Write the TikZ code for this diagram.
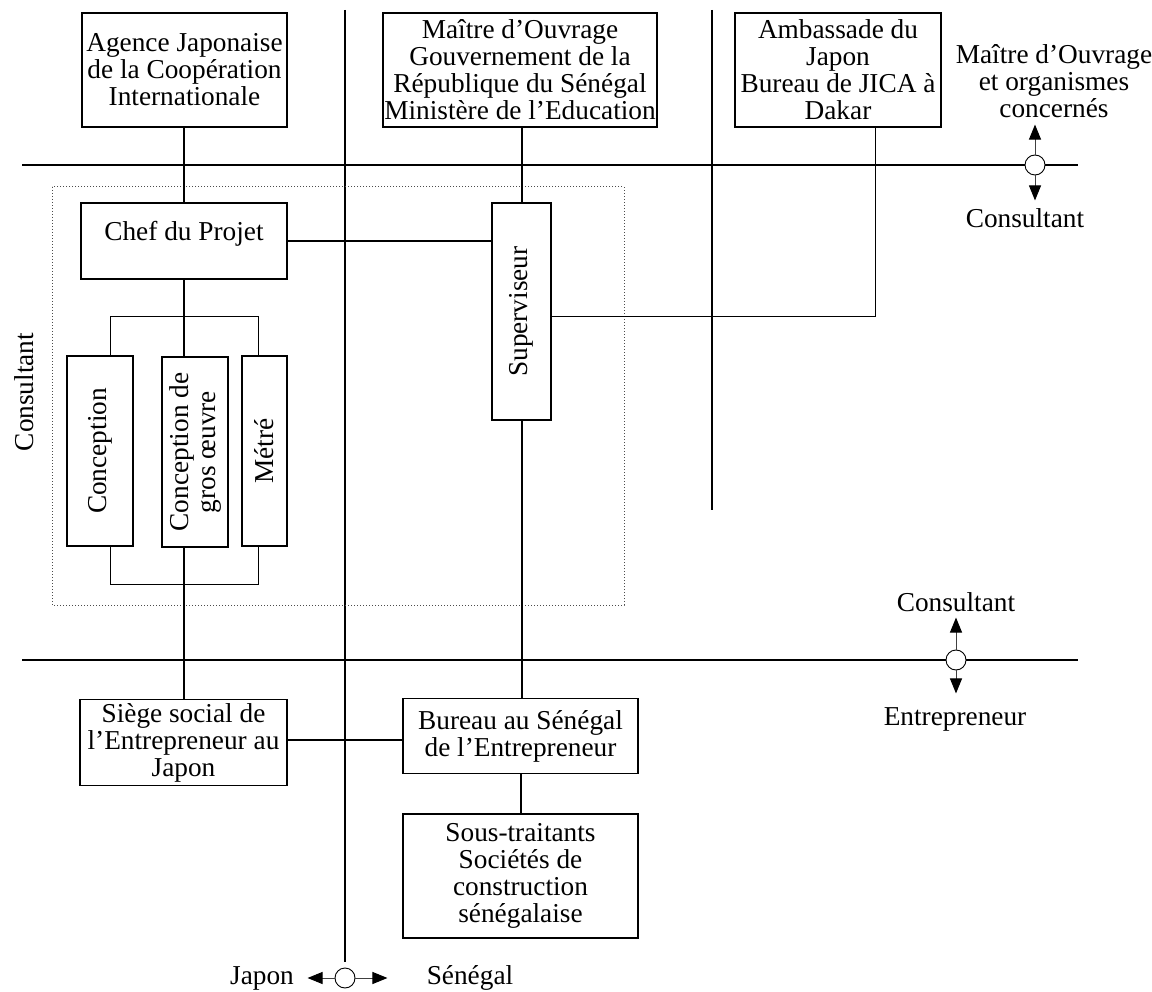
\documentclass[tikz,border=0pt]{standalone}
\usepackage{fontspec}
\setmainfont{Liberation Serif}
\usetikzlibrary{arrows.meta}
\begin{document}
\begin{tikzpicture}[x=1pt,y=-1pt,
  box/.style={draw,line width=1.3pt,inner sep=0pt,align=center,font=\fontsize{27.3}{27}\selectfont},
  lbl/.style={align=center,inner sep=0pt,font=\fontsize{27.3}{27}\selectfont},
  mainln/.style={line width=2.6pt},
  conn/.style={line width=2pt},
  thinln/.style={line width=1pt},
  hub/.style={circle,draw,fill=white,line width=0.9pt,minimum size=20pt,inner sep=0pt},
  arr/.style={line width=1pt,black!75,-{Triangle[length=15pt,width=12pt,color=black]}},
]
\useasboundingbox (0,0) rectangle (1152,992);

% main separation lines
\coordinate (h1a) at (22,165);  \coordinate (h1b) at (1078,165);
\coordinate (h2a) at (22,660);  \coordinate (h2b) at (1078,660);
\coordinate (v1a) at (345,10);  \coordinate (v1b) at (345,962);
\coordinate (v2a) at (712,10);  \coordinate (v2b) at (712,510);
\draw[mainln] (h1a) -- (h1b);
\draw[mainln] (h2a) -- (h2b);
\draw[conn] (v1a) -- (v1b);
\draw[conn] (v2a) -- (v2b);

% consultant team frame
\draw[dotted,line width=1pt,black!70] (52,187) rectangle (624,605);

% boxes
\node[box,minimum width=205pt,minimum height=114pt] (agence) at (184.5,70) {Agence Japonaise\\de la Coopération\\Internationale};
\node[box,minimum width=274pt,minimum height=114pt] (mo) at (520,70) {Maître d’Ouvrage\\Gouvernement de la\\République du Sénégal\\Ministère de l’Education};
\node[box,minimum width=206pt,minimum height=114pt] (amb) at (838,70) {Ambassade du\\Japon\\Bureau de JICA à\\Dakar};
\node[box,minimum width=206pt,minimum height=76pt,text height=18pt,text depth=18pt] (chef) at (184,241) {Chef du Projet};
\node[box,rotate=90,minimum width=217pt,minimum height=59pt] (sup) at (521.5,311.5) {Superviseur};
\node[box,rotate=90,minimum width=190pt,minimum height=66pt] (conc) at (100,451) {Conception};
\node[box,rotate=90,minimum width=190pt,minimum height=66pt] (gros) at (195,452) {Conception de\\gros œuvre};
\node[box,rotate=90,minimum width=190pt,minimum height=45pt] (met) at (264.5,451) {Métré};
\node[box,minimum width=207pt,minimum height=86pt] (siege) at (183.5,742.5) {Siège social de\\l’Entrepreneur au\\Japon};
\node[box,minimum width=235pt,minimum height=75pt] (bur) at (520.5,736) {Bureau au Sénégal\\de l’Entrepreneur};
\node[box,minimum width=235pt,minimum height=124pt] (sous) at (520.5,876) {Sous-traitants\\Sociétés de\\construction\\sénégalaise};

% connectors
\draw[conn] (agence.south -| chef.north) -- (chef.north);
\draw[conn] (chef.east) -- (chef.east -| sup.north);
\draw[conn] (sup.east |- mo.south) -- (sup.east);
\draw[conn] (sup.west) -- (sup.west |- bur.north);
\draw[thinln] (sup.south |- 0,317) -| (amb.south -| 875,0);
\draw[conn] (chef.south) -- (chef.south |- gros.east);
\draw[thinln] (110,0 |- conc.east) -- (110,317) -- (258,317) -- (258,0 |- met.east);
\draw[thinln] (110,0 |- conc.west) -- (110,584) -- (258,584) -- (258,0 |- met.west);
\draw[conn] (184,0 |- gros.west) -- (184,0 |- siege.north);
\draw[conn] (siege.east |- 0,740) -- (bur.west |- 0,740);
\draw[conn] (bur.south) -- (sous.north);

% hubs with arrows
\node[hub] (c1) at (1035,165) {};
\node[hub] (c2) at (956,660) {};
\node[hub] (c3) at (345,978) {};
\draw[arr] (c1.north) -- ++(0,-30);
\draw[arr] (c1.south) -- ++(0,25);
\draw[arr] (c2.north) -- ++(0,-32);
\draw[arr] (c2.south) -- ++(0,23);
\draw[arr] (c3.west) -- ++(-27,0);
\draw[arr] (c3.east) -- ++(32,0);

% labels
\node[lbl] (lmo) at (1054,81) {Maître d’Ouvrage\\et organismes\\concernés};
\node[lbl] (lc1) at (1025,218) {Consultant};
\node[lbl] (lc2) at (956,602) {Consultant};
\node[lbl] (le) at (955,719) {Entrepreneur};
\node[lbl,anchor=base] (lj) at (262,984) {Japon};
\node[lbl,anchor=base] (ls) at (470,984) {Sénégal};
\node[lbl,rotate=90] (lcv) at (24,392) {Consultant};
\end{tikzpicture}
\end{document}
